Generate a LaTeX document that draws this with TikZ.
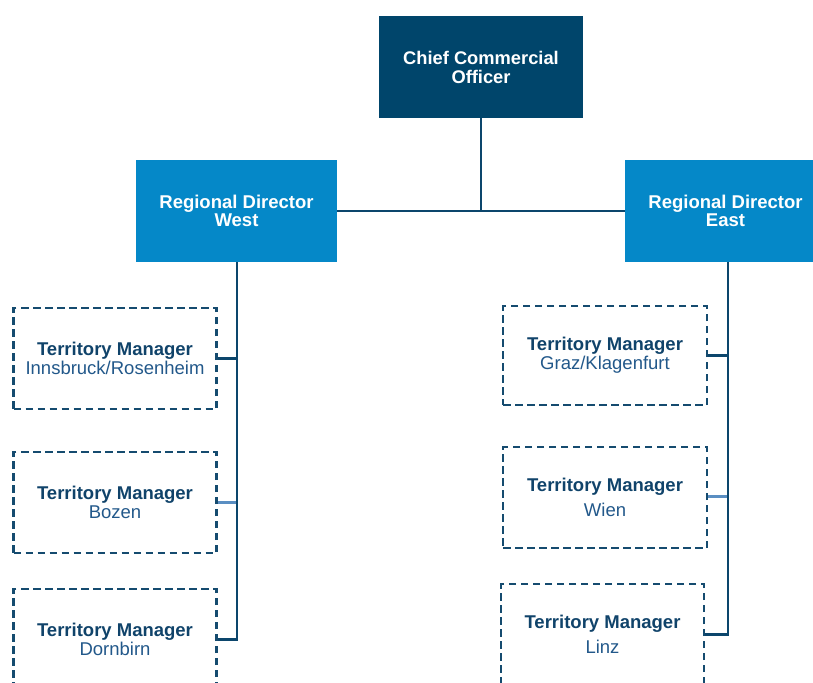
\documentclass[tikz,border=0pt]{standalone}
\usepackage{fontspec}
\setmainfont{Liberation Sans}
\definecolor{navy}{HTML}{00456B}
\definecolor{regblue}{HTML}{0588C8}
\definecolor{linecol}{HTML}{0C466C}
\definecolor{dashcol}{HTML}{154B6F}
\definecolor{tmbold}{HTML}{10436A}
\definecolor{tmreg}{HTML}{22588A}
\definecolor{lightline}{HTML}{5A8EC2}
\tikzset{
  exec/.style={fill=navy, draw=none, text=white, minimum width=204pt, minimum height=102pt,
    align=center, font=\fontsize{18.3}{19}\selectfont\bfseries, inner sep=0pt},
  regbox/.style={fill=regblue, draw=none, text=white, minimum width=201pt, minimum height=102pt,
    align=center, font=\fontsize{18.5}{18.5}\selectfont\bfseries, inner sep=0pt},
  tmbox/.style={draw=dashcol, line width=2.4pt, dash pattern=on 7.5pt off 4.5pt, minimum width=203pt,
    minimum height=101pt, align=center, text=tmbold, font=\fontsize{18.5}{19}\selectfont, inner sep=0pt},
  conn/.style={draw=linecol, line width=2.8pt},
  connlight/.style={draw=lightline, line width=2.5pt},
}
\newcommand{\tm}[1]{{\bfseries Territory Manager}\\{\color{tmreg}#1}}
\newcommand{\tmwide}[1]{{\bfseries Territory Manager}\\[6pt]{\color{tmreg}#1}}
\begin{document}
\begin{tikzpicture}[x=1pt, y=-1pt]
\useasboundingbox (0,0) rectangle (813,682);

% top level
\node[exec] (cco) at (481,67) {Chief Commercial\\Officer};

% regional directors
\node[regbox] (west) at (236.5,211) {Regional Director\\West};
\node[regbox] (east) at (725.5,211) {Regional Director\\East};

% territory managers, west
\node[tmbox] (w1) at (115,358.5) {\tm{Innsbruck/Rosenheim}};
\node[tmbox] (w2) at (115,502.5) {\tm{Bozen}};
\node[tmbox] (w3) at (115,639.5) {\tm{Dornbirn}};

% territory managers, east
\node[tmbox, minimum width=204pt, minimum height=99pt] (e1) at (605,355.5) {\tm{Graz/Klagenfurt}};
\node[tmbox, minimum width=204pt] (e2) at (605,497.5) {\tmwide{Wien}};
\node[tmbox] (e3) at (602.5,634.5) {\tmwide{Linz}};

% connectors between levels
\draw[conn] (west.east) -- (east.west);
\draw[conn] (cco.south) -- (cco.south |- west.east);

\coordinate (ws) at ([xshift=0.5pt]west.south);
\coordinate (es) at ([xshift=2.5pt]east.south);

\draw[connlight] (w2.east) -- (w2.east -| ws);
\draw[conn] (ws) |- (w3.east);
\draw[conn] (w1.east) -- (w1.east -| ws);

\draw[connlight] ([yshift=1pt]e2.east) -- ([yshift=1pt]e2.east -| es);
\draw[conn] (es) |- (e3.east);
\draw[conn] (e1.east) -- (e1.east -| es);
\end{tikzpicture}
\end{document}
